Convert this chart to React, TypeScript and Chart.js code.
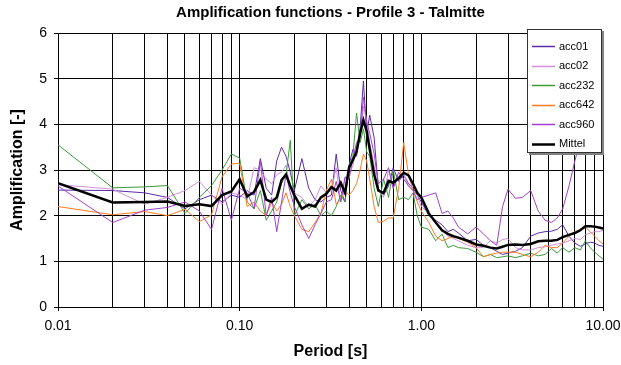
import React, { useEffect, useRef } from "react";
import { Chart, registerables } from "chart.js";

Chart.register(...registerables);

const chartTitle = "Amplification functions - Profile 3 - Talmitte";
const xAxisTitle = "Period [s]";
const yAxisTitle = "Amplification [-]";

const periods = [
  0.01, 0.02, 0.03, 0.04, 0.05, 0.06, 0.07, 0.08, 0.09,
  0.10, 0.11, 0.12, 0.13, 0.14, 0.15, 0.16, 0.17, 0.18, 0.19,
  0.20, 0.22, 0.24, 0.26, 0.28, 0.30, 0.32, 0.34, 0.36, 0.38,
  0.40, 0.42, 0.44, 0.46, 0.48, 0.50, 0.52, 0.55, 0.58, 0.62, 0.66, 0.70, 0.75, 0.80, 0.85, 0.90, 0.95,
  1.0, 1.1, 1.2, 1.3, 1.4, 1.5, 1.6, 1.8, 2.0, 2.2, 2.4, 2.6, 2.8, 3.0, 3.3, 3.6, 4.0, 4.4, 4.8, 5.2, 5.6, 6.0, 6.5, 7.0, 7.5, 8.0, 8.5, 9.0, 9.5, 10.0,
];

const acc01 = [
  2.56, 2.55, 2.50, 2.40, 2.15, 2.35, 2.45, 2.30, 2.45,
  2.40, 2.55, 2.45, 3.25, 2.60, 2.45, 3.20, 3.50, 3.30, 2.95,
  2.55, 3.25, 2.60, 2.35, 2.30, 2.40, 2.45, 3.35, 2.55, 2.30,
  3.10, 3.45, 3.30, 3.90, 4.95, 3.80, 4.20, 3.70, 2.60, 2.45, 2.65, 3.05, 2.75, 2.90, 2.70, 2.60, 2.45,
  2.30, 2.00, 1.90, 1.80, 1.65, 1.70, 1.62, 1.45, 1.48, 1.35, 1.30, 1.22, 1.15, 1.18, 1.22, 1.30, 1.55, 1.62, 1.65, 1.66, 1.70, 1.80, 1.55, 1.40, 1.33, 1.38, 1.42, 1.40, 1.35, 1.33,
];

const acc02 = [
  2.68, 2.58, 2.25, 2.40, 2.55, 2.75, 2.45, 2.25, 2.50,
  2.45, 2.35, 3.05, 3.00, 2.80, 2.70, 2.90, 2.95, 3.10, 2.60,
  2.50, 2.40, 2.20, 2.35, 2.65, 2.50, 2.55, 3.05, 2.30, 2.80,
  2.90, 3.10, 3.50, 3.70, 4.40, 4.10, 3.60, 3.10, 2.55, 2.40, 3.00, 2.60, 2.85, 2.90, 2.65, 2.55, 2.45,
  2.20, 2.05, 1.85, 1.70, 1.55, 1.50, 1.45, 1.35, 1.30, 1.30, 1.45, 1.40, 1.48, 1.50, 1.30, 1.25, 1.25, 1.30, 1.32, 1.35, 1.38, 1.40, 1.45, 1.50, 1.48, 1.58, 1.62, 1.65, 1.65, 1.68,
];

const acc232 = [
  3.55, 2.61, 2.63, 2.66, 2.05, 2.40, 2.66, 3.00, 3.35,
  3.26, 2.30, 2.15, 2.55, 1.90, 2.10, 2.30, 2.70, 2.90, 3.65,
  2.00, 2.35, 2.15, 2.25, 2.00, 2.10, 2.00, 2.20, 2.45, 2.30,
  3.10, 3.30, 4.25, 3.60, 3.90, 3.40, 3.30, 2.60, 2.20, 2.80, 2.40, 3.00, 2.35, 2.40, 2.35, 2.50, 2.00,
  1.75, 1.70, 1.45, 1.60, 1.30, 1.35, 1.30, 1.28, 1.20, 1.10, 1.15, 1.08, 1.10, 1.12, 1.08, 1.12, 1.18, 1.12, 1.15, 1.28, 1.18, 1.30, 1.20, 1.30, 1.25, 1.45, 1.30, 1.20, 1.12, 1.05,
];

const acc642 = [
  2.20, 2.02, 2.09, 2.00, 2.14, 1.87, 2.02, 2.85, 3.13,
  3.15, 2.20, 2.30, 2.10, 2.00, 2.30, 2.10, 2.25, 2.50, 2.20,
  2.00, 1.70, 1.65, 1.85, 2.05, 2.55, 2.80, 2.25, 2.35, 2.55,
  2.45, 2.55, 2.70, 3.00, 3.35, 3.20, 2.80, 2.20, 1.85, 1.88, 1.95, 1.95, 2.60, 3.60, 2.90, 2.55, 2.30,
  2.10, 1.85, 1.55, 1.45, 1.50, 1.55, 1.50, 1.42, 1.30, 1.10, 1.15, 1.18, 1.20, 1.20, 1.20, 1.15, 1.10, 1.20, 1.35, 1.30, 1.30, 1.40, 1.55, 1.65, 1.70, 1.75, 1.65, 1.55, 1.45, 1.38,
];

const acc960 = [
  2.65, 1.85, 2.12, 2.18, 2.30, 2.10, 1.70, 2.60, 1.90,
  2.60, 2.50, 2.15, 3.20, 2.00, 2.40, 1.65, 2.30, 2.90, 2.50,
  2.20, 1.80, 1.50, 1.80, 2.05, 2.30, 2.35, 2.75, 2.30, 2.85,
  2.80, 3.25, 3.60, 3.70, 4.60, 4.05, 3.80, 3.35, 2.70, 2.80, 3.05, 2.60, 2.95, 2.80, 2.65, 2.55, 2.35,
  2.40, 2.45, 2.50, 2.05, 2.10, 1.95, 1.75, 1.60, 1.75, 1.60, 1.45, 1.35, 2.20, 2.58, 2.38, 2.40, 2.55, 2.10, 1.90, 1.85, 1.95, 2.15, 2.65, 3.20, 3.65, 3.85, 3.95, 4.05, 4.15, 4.20,
];

const mittel = [
  2.71, 2.29, 2.30, 2.31, 2.21, 2.25, 2.21, 2.45, 2.53,
  2.80, 2.42, 2.52, 2.78, 2.35, 2.30, 2.40, 2.78, 2.90, 2.65,
  2.45, 2.15, 2.24, 2.20, 2.40, 2.48, 2.63, 2.55, 2.72, 2.50,
  3.05, 3.22, 3.40, 3.80, 4.09, 3.85, 3.45, 2.90, 2.55, 2.50, 2.76, 2.72, 2.82, 2.94, 2.88, 2.70, 2.50,
  2.40, 2.05, 1.85, 1.68, 1.60, 1.55, 1.52, 1.45, 1.37, 1.34, 1.30, 1.28, 1.32, 1.36, 1.37, 1.36, 1.38, 1.44, 1.45, 1.45, 1.47, 1.53, 1.58, 1.62, 1.68, 1.77, 1.77, 1.76, 1.74, 1.72,
];

const seriesNames = ["acc01", "acc02", "acc232", "acc642", "acc960", "Mittel"];
const seriesValues = [acc01, acc02, acc232, acc642, acc960, mittel];
const seriesColors = ["#5a2ca8", "#d090dc", "#3c9a3c", "#ff7a22", "#a040cc", "#000000"];
const seriesWidths = [1, 1, 1, 1, 1, 2.5];

const xDecadeLabels: Record<string, string> = { "0.01": "0.01", "0.1": "0.10", "1": "1.00", "10": "10.00" };
const yTickValues = [0, 1, 2, 3, 4, 5, 6];

const FONT = "'Liberation Sans', Arial, Helvetica, sans-serif";

function buildGridValues(): number[] {
  const out: number[] = [];
  [0.01, 0.1, 1].forEach((d) => {
    for (let k = 1; k <= 9; k++) out.push(parseFloat((d * k).toFixed(4)));
  });
  out.push(10);
  return out;
}

function decadeLabel(v: number): string {
  const key = String(parseFloat(v.toFixed(4)));
  return xDecadeLabels[key] ?? "";
}

const legendPlugin = {
  id: "boxLegend",
  afterDraw(chart: any) {
    const ctx = chart.ctx as CanvasRenderingContext2D;
    const x0 = 527;
    const y0 = 29;
    const w = 75;
    const h = 124;
    ctx.save();
    ctx.fillStyle = "#808080";
    ctx.fillRect(x0 + 2, y0 + 2, w, h);
    ctx.fillStyle = "#ffffff";
    ctx.fillRect(x0, y0, w, h);
    ctx.strokeStyle = "#333333";
    ctx.lineWidth = 1;
    ctx.strokeRect(x0 + 0.5, y0 + 0.5, w - 1, h - 1);
    ctx.font = `11px ${FONT}`;
    ctx.textBaseline = "middle";
    ctx.textAlign = "left";
    seriesNames.forEach((name, i) => {
      const y = 46 + i * 19.5;
      ctx.strokeStyle = seriesColors[i];
      ctx.lineWidth = i === 5 ? 2.5 : 1.5;
      ctx.beginPath();
      ctx.moveTo(532, Math.round(y) + 0.5);
      ctx.lineTo(555, Math.round(y) + 0.5);
      ctx.stroke();
      ctx.fillStyle = "#000";
      ctx.fillText(name, 559, y + 0.5);
    });
    ctx.restore();
  },
};

export default function App() {
  const canvasRef = useRef<HTMLCanvasElement | null>(null);

  useEffect(() => {
    const canvas = canvasRef.current;
    if (!canvas) return;
    Chart.defaults.font.family = FONT;
    Chart.defaults.color = "#000";
    const gridValues = buildGridValues();

    const datasets = seriesNames.map((name, i) => ({
      label: name,
      data: periods.map((p, j) => ({ x: p, y: seriesValues[i][j] })),
      borderColor: seriesColors[i],
      backgroundColor: seriesColors[i],
      borderWidth: seriesWidths[i],
      pointRadius: 0,
      tension: 0,
      fill: false,
      order: 5 - i,
    }));

    const chart = new Chart(canvas, {
      type: "line",
      data: { datasets },
      options: {
        animation: false,
        responsive: false,
        maintainAspectRatio: false,
        layout: { padding: { left: 0, right: 0, top: 0, bottom: 0 } },
        plugins: {
          legend: { display: false },
          tooltip: { enabled: false },
          title: {
            display: true,
            fullSize: false,
            text: chartTitle,
            color: "#000",
            font: { size: 15, weight: "bold", family: FONT },
            padding: { top: 4, bottom: 11 },
          },
        },
        scales: {
          x: {
            type: "logarithmic",
            min: 0.01,
            max: 10,
            afterBuildTicks: (scale: any) => {
              scale.ticks = gridValues.map((v) => ({ value: v }));
            },
            afterFit: (scale: any) => {
              scale.height = 58;
              scale.paddingLeft = 0;
              scale.paddingRight = 18;
            },
            ticks: {
              autoSkip: false,
              maxRotation: 0,
              minRotation: 0,
              padding: 7,
              color: "#000",
              font: { size: 14, family: FONT },
              callback: (v: any) => decadeLabel(Number(v)),
            },
            grid: {
              color: "#000",
              lineWidth: 1,
              tickLength: 4,
              tickColor: (ctx: any) =>
                ctx.tick && decadeLabel(ctx.tick.value) !== "" ? "#000" : "rgba(0,0,0,0)",
            },
            border: { display: true, color: "#000", width: 1 },
            title: {
              display: true,
              text: xAxisTitle,
              color: "#000",
              font: { size: 16, weight: "bold", family: FONT },
              padding: { top: 0, bottom: 4 },
            },
          },
          y: {
            type: "linear",
            min: 0,
            max: 6,
            afterBuildTicks: (scale: any) => {
              scale.ticks = yTickValues.map((v) => ({ value: v }));
            },
            afterFit: (scale: any) => {
              scale.width = 58;
              scale.paddingTop = 0;
              scale.paddingBottom = 0;
            },
            ticks: {
              padding: 7,
              color: "#000",
              font: { size: 14, family: FONT },
              callback: (v: any) => String(v),
            },
            grid: { color: "#000", lineWidth: 1, tickLength: 4, tickColor: "#000" },
            border: { display: true, color: "#000", width: 1 },
            title: {
              display: true,
              text: yAxisTitle,
              color: "#000",
              font: { size: 16, weight: "bold", family: FONT },
              padding: { top: 8, bottom: 0 },
            },
          },
        },
      } as any,
      plugins: [legendPlugin],
    });

    return () => chart.destroy();
  }, []);

  return (
    <div style={{ position: "absolute", left: 0, top: 0, width: 621, height: 365, background: "#fff" }}>
      <canvas ref={canvasRef} width={621} height={365} style={{ display: "block", width: 621, height: 365 }} />
    </div>
  );
}
